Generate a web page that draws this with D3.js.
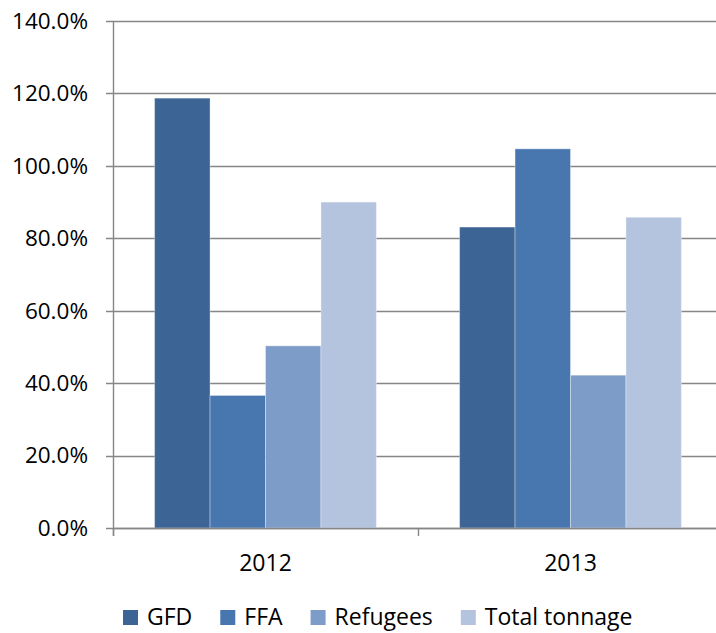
<!DOCTYPE html>
<html>
<head>
<meta charset="utf-8">
<script src="https://cdn.jsdelivr.net/npm/d3@7"></script>
<style>
  html, body { margin: 0; padding: 0; background: #fff; }
  svg { display: block; }
  text { font-family: "Open Sans", "Liberation Sans", sans-serif; fill: #000; }
</style>
</head>
<body>
<svg id="chart" width="716" height="633"></svg>
<script>
// Distribution performance by programme, as a share of plan
const categories = ["2012", "2013"];
const seriesNames = ["GFD", "FFA", "Refugees", "Total tonnage"];
const gfd = [118.7, 83.1];
const ffa = [36.6, 104.7];
const refugees = [50.3, 42.2];
const totalTonnage = [90.0, 85.8];
const yTicks = [0, 20, 40, 60, 80, 100, 120, 140];
const colors = ["#3C6494", "#4877B0", "#7E9CC8", "#B4C4DF"];

const seriesValues = [gfd, ffa, refugees, totalTonnage];

const svg = d3.select("#chart");
const plot = { left: 113, right: 723, top: 21, bottom: 528 };

const y = d3.scaleLinear().domain([0, 140]).range([plot.bottom, plot.top]);
const x = d3.scaleBand().domain(categories).range([plot.left, plot.right]).paddingInner(0).paddingOuter(0);
// four bars per group with a 150% gap width shared between the group edges
const barW = x.bandwidth() / (seriesNames.length + 1.5);
const xs = d3.scaleBand().domain(seriesNames)
  .range([barW * 0.75, barW * 0.75 + barW * seriesNames.length]).padding(0);

const gridColor = "#868686";

// horizontal gridlines with small outer ticks
svg.append("g").selectAll("line").data(yTicks).join("line")
  .attr("x1", plot.left - 7).attr("x2", plot.right)
  .attr("y1", d => Math.round(y(d)) + 0.5).attr("y2", d => Math.round(y(d)) + 0.5)
  .attr("stroke", gridColor).attr("stroke-width", 1.4);

// bars
const groups = svg.append("g").selectAll("g").data(categories).join("g")
  .attr("transform", d => `translate(${x(d)},0)`);
groups.selectAll("rect")
  .data((c, ci) => seriesNames.map((s, si) => ({ s, si, v: seriesValues[si][ci] })))
  .join("rect")
  .attr("x", d => xs(d.s))
  .attr("width", xs.bandwidth())
  .attr("y", d => y(d.v))
  .attr("height", d => y(0) - y(d.v))
  .attr("fill", d => colors[d.si])
  .attr("stroke", "rgba(255,255,255,0.35)")
  .attr("stroke-width", 1);

// y axis line
svg.append("line")
  .attr("x1", plot.left + 0.5).attr("x2", plot.left + 0.5)
  .attr("y1", plot.top).attr("y2", plot.bottom + 8)
  .attr("stroke", gridColor).attr("stroke-width", 1.4);

// x axis baseline and category ticks
svg.append("line")
  .attr("x1", plot.left).attr("x2", plot.right)
  .attr("y1", Math.round(y(0)) + 0.5).attr("y2", Math.round(y(0)) + 0.5)
  .attr("stroke", gridColor).attr("stroke-width", 1.4);
const catTicks = categories.map(c => x(c)).concat([plot.right]);
svg.append("g").selectAll("line").data(catTicks).join("line")
  .attr("x1", d => Math.round(d) + 0.5).attr("x2", d => Math.round(d) + 0.5)
  .attr("y1", plot.bottom).attr("y2", plot.bottom + 8)
  .attr("stroke", gridColor).attr("stroke-width", 1.4);

// y tick labels
svg.append("g").selectAll("text").data(yTicks).join("text")
  .attr("x", 88).attr("y", d => y(d))
  .attr("dy", "0.35em")
  .attr("text-anchor", "end")
  .style("font-size", "22.5px")
  .text(d => d3.format(".1f")(d) + "%");

// category labels
svg.append("g").selectAll("text").data(categories).join("text")
  .attr("x", d => x(d) + x.bandwidth() / 2).attr("y", 563)
  .attr("dy", "0.35em")
  .attr("text-anchor", "middle")
  .style("font-size", "23px")
  .text(d => d);

// legend
const legend = svg.append("g");
const items = legend.selectAll("g").data(seriesNames).join("g");
items.append("rect").attr("width", 15).attr("height", 15).attr("y", -15)
  .attr("fill", (d, i) => colors[i]);
items.append("text").attr("x", 24).attr("y", 0)
  .style("font-size", "23px")
  .text(d => d);
const gap = 28;
let cx = 0;
items.each(function () {
  const g = d3.select(this);
  const w = 24 + g.select("text").node().getComputedTextLength();
  g.attr("transform", `translate(${cx},0)`);
  cx += w + gap;
});
const legendW = cx - gap;
legend.attr("transform", `translate(${Math.round(377.5 - legendW / 2)},625)`);
</script>
</body>
</html>
